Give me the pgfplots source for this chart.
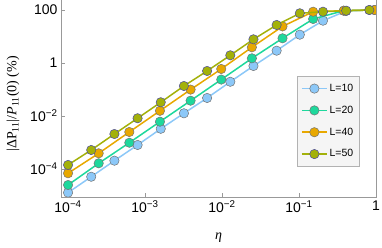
\documentclass[border=0pt]{standalone}
\usepackage{fontspec}
\setmainfont{Liberation Sans}
\newfontfamily\serifont{Liberation Serif}
\usepackage{pgfplots}
\pgfplotsset{compat=1.18}
\definecolor{c10}{HTML}{8CC8F8}
\definecolor{c20}{HTML}{1ED89C}
\definecolor{c40}{HTML}{E8A800}
\definecolor{c50}{HTML}{A3B10A}
\begin{document}
\begin{tikzpicture}
\begin{axis}[
 scale only axis, width=315pt, height=196.5pt,
 xmode=log, ymode=log,
 xmin=8.1e-5, xmax=1, ymin=8.77e-6, ymax=228,
 axis line style={draw=none},
 xtick={1e-4,1e-3,1e-2,1e-1,1},
 xticklabels={10\textsuperscript{−4},10\textsuperscript{−3},10\textsuperscript{−2},10\textsuperscript{−1},1},
 ytick={1e-4,1e-2,1,100},
 yticklabels={10\textsuperscript{−4},10\textsuperscript{−2},1,100},
 xminorticks=false, yminorticks=false,
 tick align=inside, xtick pos=bottom, ytick pos=left,
 major tick length=4pt,
 tick style={gray!80, line width=0.6pt},
 tick label style={font=\fontsize{14}{16}\selectfont},
 xlabel={\serifont\itshape η},
 xlabel style={at={(axis description cs:0.5,-0.209)}, anchor=center, font=\fontsize{14}{16}\selectfont},
 ylabel={\serifont |ΔP\textsubscript{11}|/\textit{P}\textsubscript{11}(0) (\%)},
 ylabel style={at={(axis description cs:-0.152,0.474)}, anchor=center, font=\fontsize{14}{16}\selectfont},
 clip marker paths=true,
 legend cell align=left,
 legend style={at={(rel axis cs:0.749,0.616)}, anchor=north west, fill=black!4, draw=black!30,
   font=\fontsize{10.5}{12}\selectfont, row sep=9pt, inner xsep=4pt, inner ysep=6pt},
 legend image code/.code={\draw[mark repeat=2,mark phase=2,#1] plot coordinates {(0pt,0pt) (12.5pt,0pt) (25pt,0pt)};},
 every axis plot/.append style={line width=1.5pt, mark=*, mark size=4.7pt},
]
\addplot[color=c10, mark options={fill=c10, draw=black!55, line width=0.5pt}] table {
1e-4 1.28e-5
2e-4 5.1e-5
4e-4 2.06e-4
8e-4 8.05e-4
1.6e-3 3.29e-3
3.2e-3 0.01265
6.4e-3 0.0478
0.0128 0.1955
0.0256 0.771
0.0512 2.91
0.1024 11.7
0.2048 39.5
0.4096 91.7
0.8192 100
};
\addlegendentry{L=10}
\addplot[color=c20, mark options={fill=c20, draw=black!55, line width=0.5pt}] table {
1e-4 2.49e-5
2.5e-4 1.64e-4
6.25e-4 9.8e-4
1.5625e-3 6.1e-3
3.90625e-3 0.0378
9.765625e-3 0.237
0.0244140625 1.50
0.06103515625 8.55
0.152587890625 45.7
0.3814697265625 94
0.95367431640625 100
};
\addlegendentry{L=20}
\addplot[color=c40, mark options={fill=c40, draw=black!55, line width=0.5pt}] table {
1e-4 6.9e-5
2.5e-4 3.9e-4
6.25e-4 2.49e-3
1.5625e-3 0.0157
3.90625e-3 0.099
9.765625e-3 0.594
0.0244140625 3.91
0.06103515625 24
0.152587890625 86
0.3814697265625 94
0.95367431640625 100
};
\addlegendentry{L=40}
\addplot[color=c50, mark options={fill=c50, draw=blue!45!black!70, line width=0.5pt}] table {
1e-4 1.42e-4
2e-4 5.2e-4
4e-4 2.09e-3
8e-4 8.2e-3
1.6e-3 0.0329
3.2e-3 0.1355
6.4e-3 0.499
0.0128 1.95
0.0256 7.83
0.0512 27.2
0.1024 75
0.2048 86
0.4096 94
0.8192 100
};
\addlegendentry{L=50}
\coordinate (tl) at (rel axis cs:0,1);
\coordinate (bl) at (rel axis cs:0,0);
\coordinate (br) at (rel axis cs:1,0);
\coordinate (tr) at (rel axis cs:1,1);
\coordinate (BB1) at (rel axis cs:-0.1937,-0.2595);
\coordinate (BB2) at (rel axis cs:1.019,1.0025);
\end{axis}
\draw[gray!80, line width=0.7pt] (tl) -- (bl) -- (br) -- (tr);
\pgfresetboundingbox
\path[use as bounding box] (BB1) rectangle (BB2);
\end{tikzpicture}
\end{document}
